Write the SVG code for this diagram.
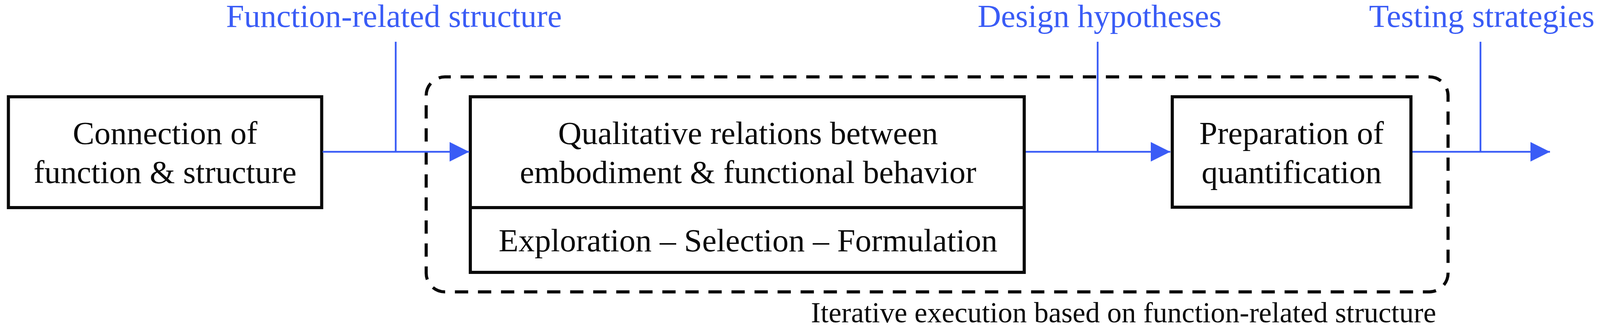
<svg xmlns="http://www.w3.org/2000/svg" width="4097" height="838" viewBox="0 0 4097 838">
<style>
.box{fill:#fff;stroke:#0a0a0a;stroke-width:8}
.t{font-family:"Liberation Serif","Times New Roman",serif;font-size:83px;fill:#0a0a0a;text-anchor:middle}
.lbl{font-family:"Liberation Serif","Times New Roman",serif;font-size:83px;fill:#3a5cf6;text-anchor:middle}
.cap{font-family:"Liberation Serif","Times New Roman",serif;font-size:74px;fill:#0a0a0a}
.wire{fill:none;stroke:#3a5cf6;stroke-width:4.5}
.frame{fill:none;stroke:#0a0a0a;stroke-width:8;stroke-dasharray:34 25;stroke-dashoffset:19}
</style>
<defs>
<marker id="arrow" markerUnits="userSpaceOnUse" markerWidth="50" markerHeight="50" refX="50" refY="25" orient="auto">
<path d="M0,0 L50,25 L0,50 z" fill="#3a5cf6"/>
</marker>
</defs>
<g id="iteration-frame">
<rect class="frame" x="1091" y="197" width="2616" height="551" rx="48" ry="48"/>
<text class="cap" x="2076" y="826">Iterative execution based on function-related structure</text>
</g>
<g id="node-connection">
<rect class="box" x="21.5" y="248" width="802" height="284"/>
<text class="t" x="422.5" y="369">Connection of</text>
<text class="t" x="422.5" y="469">function &amp; structure</text>
</g>
<g id="node-qualitative">
<rect class="box" x="1204" y="248" width="1418" height="450"/>
<line x1="1204" y1="532" x2="2622" y2="532" stroke="#0a0a0a" stroke-width="8"/>
<text class="t" x="1915" y="369">Qualitative relations between</text>
<text class="t" x="1915" y="469">embodiment &amp; functional behavior</text>
<text class="t" x="1915" y="644">Exploration – Selection – Formulation</text>
</g>
<g id="node-preparation">
<rect class="box" x="3001" y="248" width="611" height="283"/>
<text class="t" x="3306.5" y="369">Preparation of</text>
<text class="t" x="3306.5" y="469">quantification</text>
</g>
<g id="connectors">
<path class="wire" d="M826 389 H1201" marker-end="url(#arrow)"/>
<path class="wire" d="M1013 107 V389"/>
<path class="wire" d="M2626 389 H2996" marker-end="url(#arrow)"/>
<path class="wire" d="M2810 107 V389"/>
<path class="wire" d="M3616 389 H3968" marker-end="url(#arrow)"/>
<path class="wire" d="M3790 107 V389"/>
<text class="lbl" x="1008.5" y="69">Function-related structure</text>
<text class="lbl" x="2815" y="69">Design hypotheses</text>
<text class="lbl" x="3793.5" y="69">Testing strategies</text>
</g>
</svg>
